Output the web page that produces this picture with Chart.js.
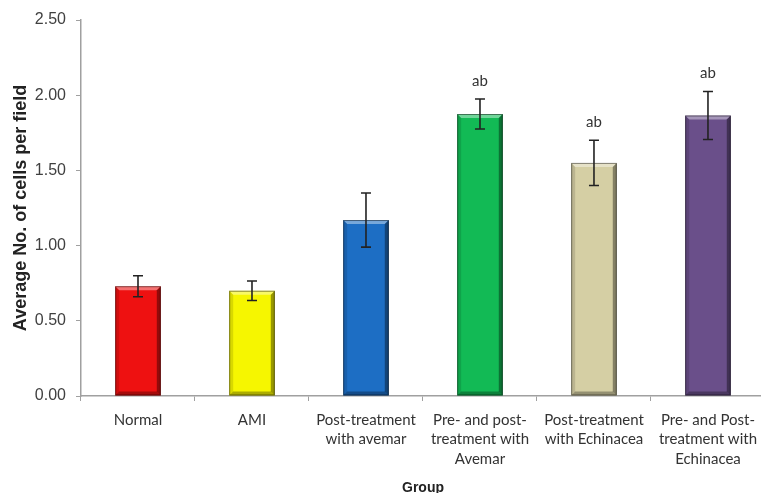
<!DOCTYPE html>
<html lang="en">
<head>
  <meta charset="UTF-8">
  <title>Average No. of cells per field by group</title>
  <script src="https://cdn.jsdelivr.net/npm/chart.js"></script>
  <style>
    html, body {
      margin: 0;
      padding: 0;
      background: #fff;
      overflow: hidden;
    }
    #wrap {
      width: 766px;
      height: 500px;
    }
  </style>
</head>
<body>

<div id="wrap">
  <canvas id="cellsChart" role="img" aria-label="Bar chart of average number of cells per field by group"></canvas>
</div>

<script>
  const groups = [
    'Normal',
    'AMI',
    ['Post-treatment', 'with avemar'],
    ['Pre- and post-', 'treatment with', 'Avemar'],
    ['Post-treatment', 'with Echinacea'],
    ['Pre- and Post-', 'treatment with', 'Echinacea']
  ];
  const means = [0.73, 0.70, 1.17, 1.875, 1.55, 1.865];
  const errors = [0.07, 0.065, 0.18, 0.10, 0.15, 0.16];
  const sigLabels = ['', '', '', 'ab', 'ab', 'ab'];
  const barColors = ['#ee1111', '#f6f600', '#1d6ec4', '#12ba55', '#d5cfa4', '#6a4f8a'];
  const yTicks = [0, 0.5, 1, 1.5, 2, 2.5];

  // bevelled look for the bars
  const bevelPlugin = {
    id: 'bevel',
    afterDatasetsDraw(chart) {
      const ctx = chart.ctx;
      const d = 4;
      chart.getDatasetMeta(0).data.forEach(bar => {
        const l = bar.x - bar.width / 2, r = bar.x + bar.width / 2;
        const t = bar.y, b = bar.base;
        ctx.save();
        const poly = (pts, fill) => {
          ctx.beginPath();
          ctx.moveTo(pts[0][0], pts[0][1]);
          pts.slice(1).forEach(p => ctx.lineTo(p[0], p[1]));
          ctx.closePath();
          ctx.fillStyle = fill;
          ctx.fill();
        };
        poly([[l, t], [r, t], [r - d, t + d], [l + d, t + d]], 'rgba(255,255,255,0.4)');
        poly([[l, t], [l + d, t + d], [l + d, b - d], [l, b]], 'rgba(0,0,0,0.12)');
        poly([[r, t], [r, b], [r - d, b - d], [r - d, t + d]], 'rgba(0,0,0,0.38)');
        poly([[l, b], [l + d, b - d], [r - d, b - d], [r, b]], 'rgba(0,0,0,0.3)');
        ctx.strokeStyle = 'rgba(0,0,0,0.45)';
        ctx.lineWidth = 1;
        ctx.strokeRect(l + 0.5, t + 0.5, bar.width - 1, b - t - 1);
        ctx.restore();
      });
    }
  };

  // error bars and significance letters
  const errorPlugin = {
    id: 'errorBars',
    afterDatasetsDraw(chart) {
      const ctx = chart.ctx;
      const y = chart.scales.y;
      chart.getDatasetMeta(0).data.forEach((bar, i) => {
        const top = y.getPixelForValue(means[i] + errors[i]);
        const bot = y.getPixelForValue(means[i] - errors[i]);
        ctx.save();
        ctx.strokeStyle = '#222';
        ctx.lineWidth = 1.6;
        ctx.beginPath();
        ctx.moveTo(bar.x, top);
        ctx.lineTo(bar.x, bot);
        ctx.moveTo(bar.x - 5, top);
        ctx.lineTo(bar.x + 5, top);
        ctx.moveTo(bar.x - 5, bot);
        ctx.lineTo(bar.x + 5, bot);
        ctx.stroke();
        if (sigLabels[i]) {
          ctx.fillStyle = '#333';
          ctx.font = '15px Lato, "Liberation Sans", Arial, sans-serif';
          ctx.textAlign = 'center';
          ctx.textBaseline = 'middle';
          ctx.fillText(sigLabels[i], bar.x, top - 18);
        }
        ctx.restore();
      });
    }
  };

  const chart = new Chart(document.getElementById('cellsChart'), {
    type: 'bar',
    data: {
      labels: groups,
      datasets: [{
        data: means,
        backgroundColor: barColors,
        borderWidth: 0,
        categoryPercentage: 1,
        barPercentage: 0.4
      }]
    },
    options: {
      responsive: true,
      maintainAspectRatio: false,
      animation: false,
      layout: { padding: { top: 20, left: 0, right: 0, bottom: 0 } },
      plugins: {
        legend: { display: false },
        tooltip: { enabled: false }
      },
      scales: {
        x: {
          grid: {
            offset: true,
            drawOnChartArea: false,
            drawTicks: true,
            tickLength: 5,
            color: '#a0a0a0'
          },
          border: { color: '#a0a0a0', width: 1.5 },
          ticks: {
            color: '#333',
            autoSkip: false,
            maxRotation: 0,
            minRotation: 0,
            padding: 9,
            font: { family: 'Lato, "Liberation Sans", Arial, sans-serif', size: 15, lineHeight: 1.3 }
          },
          title: {
            display: true,
            text: 'Group',
            color: '#222',
            font: { family: '"Liberation Sans", Arial, sans-serif', size: 14, weight: 'bold' },
            padding: { top: 0, bottom: 3 }
          },
          afterFit(scale) { scale.height = 104; }
        },
        y: {
          min: 0,
          max: 2.5,
          afterBuildTicks(scale) { scale.ticks = yTicks.map(v => ({ value: v })); },
          grid: {
            drawOnChartArea: false,
            drawTicks: true,
            tickLength: 5,
            color: '#a0a0a0'
          },
          border: { color: '#a0a0a0', width: 1.5 },
          ticks: {
            color: '#404040',
            padding: 10,
            font: { family: '"Liberation Sans", Arial, sans-serif', size: 16 },
            callback: v => v.toFixed(2)
          },
          title: {
            display: true,
            text: 'Average No. of cells per field',
            color: '#222',
            font: { family: '"Liberation Sans", Arial, sans-serif', size: 18, weight: 'bold' },
            padding: { top: 10, bottom: 0 }
          },
          afterFit(scale) { scale.width = 81; }
        }
      }
    },
    plugins: [bevelPlugin, errorPlugin]
  });
</script>

</body>
</html>
